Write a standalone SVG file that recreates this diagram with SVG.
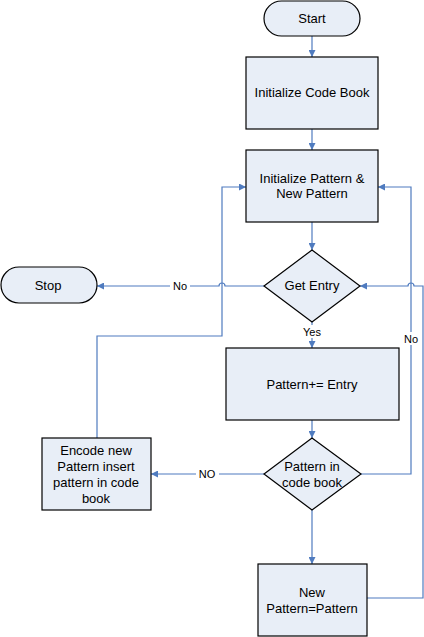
<svg xmlns="http://www.w3.org/2000/svg" width="424" height="637" viewBox="0 0 424 637">
<style>
.n{fill:#E8EEF7;stroke:#000;stroke-width:1.2}
.t{font-family:"Liberation Sans",Arial,sans-serif;font-size:13px;fill:#000;text-anchor:middle}
.l{font-family:"Liberation Sans",Arial,sans-serif;font-size:11px;fill:#000;text-anchor:middle}
.c{fill:none;stroke:#4F7BBF;stroke-width:1.2}
</style>
<defs>
<marker id="a" viewBox="0 0 10 10" refX="10" refY="5" markerWidth="7" markerHeight="7" markerUnits="userSpaceOnUse" orient="auto">
<path d="M0,0L10,5L0,10z" fill="#4F7BBF"/>
</marker>
</defs>
<rect width="424" height="637" fill="#fff"/>
<g id="connectors">
<path class="c" d="M312,36V57" marker-end="url(#a)"/>
<path class="c" d="M312,129V150" marker-end="url(#a)"/>
<path class="c" d="M312,222V250" marker-end="url(#a)"/>
<path class="c" d="M264,286H225a3,3 0 0 0 -6,0H97" marker-end="url(#a)"/>
<path class="c" d="M312,322V348" marker-end="url(#a)"/>
<path class="c" d="M312,420V438" marker-end="url(#a)"/>
<path class="c" d="M264,474H151" marker-end="url(#a)"/>
<path class="c" d="M312,510V564" marker-end="url(#a)"/>
<path class="c" d="M97,438V336H222V187H246" marker-end="url(#a)"/>
<path class="c" d="M360,474H411V187H378" marker-end="url(#a)"/>
<path class="c" d="M367,598H423V286H414a3,3 0 0 0 -6,0H360" marker-end="url(#a)"/>
<rect x="170" y="279" width="20" height="13" fill="#fff"/>
<text class="l" x="180" y="289.5">No</text>
<rect x="300" y="325" width="24" height="13" fill="#fff"/>
<text class="l" x="312" y="335.5">Yes</text>
<rect x="401" y="332" width="20" height="13" fill="#fff"/>
<text class="l" x="411" y="342.5">No</text>
<rect x="196" y="467" width="23" height="13" fill="#fff"/>
<text class="l" x="207" y="478">NO</text>
</g>
<g id="start">
<rect class="n" x="264" y="1" width="96" height="35" rx="17.5"/>
<text class="t" x="312" y="23">Start</text>
</g>
<g id="init-code-book">
<rect class="n" x="246" y="57" width="132" height="72"/>
<text class="t" x="312" y="97">Initialize Code Book</text>
</g>
<g id="init-pattern">
<rect class="n" x="246" y="150" width="132" height="72"/>
<text class="t" x="312" y="183">Initialize Pattern &amp;</text>
<text class="t" x="312" y="198">New Pattern</text>
</g>
<g id="get-entry">
<path class="n" d="M312,250L360,286L312,322L264,286z"/>
<text class="t" x="312" y="290">Get Entry</text>
</g>
<g id="stop">
<rect class="n" x="1" y="267" width="96" height="36" rx="18"/>
<text class="t" x="48" y="290">Stop</text>
</g>
<g id="pattern-entry">
<rect class="n" x="226" y="348" width="173" height="72"/>
<text class="t" x="312" y="389">Pattern+= Entry</text>
</g>
<g id="pattern-in-code-book">
<path class="n" d="M312,438L361,474L312,510L264,474z"/>
<text class="t" x="312" y="471">Pattern in</text>
<text class="t" x="312" y="487">code book</text>
</g>
<g id="encode">
<rect class="n" x="42" y="438" width="109" height="72"/>
<text class="t" x="96" y="455">Encode new</text>
<text class="t" x="96" y="471">Pattern insert</text>
<text class="t" x="96" y="487">pattern in code</text>
<text class="t" x="96" y="503">book</text>
</g>
<g id="new-pattern">
<rect class="n" x="258" y="564" width="109" height="72"/>
<text class="t" x="312" y="597">New</text>
<text class="t" x="312" y="613">Pattern=Pattern</text>
</g>
</svg>
